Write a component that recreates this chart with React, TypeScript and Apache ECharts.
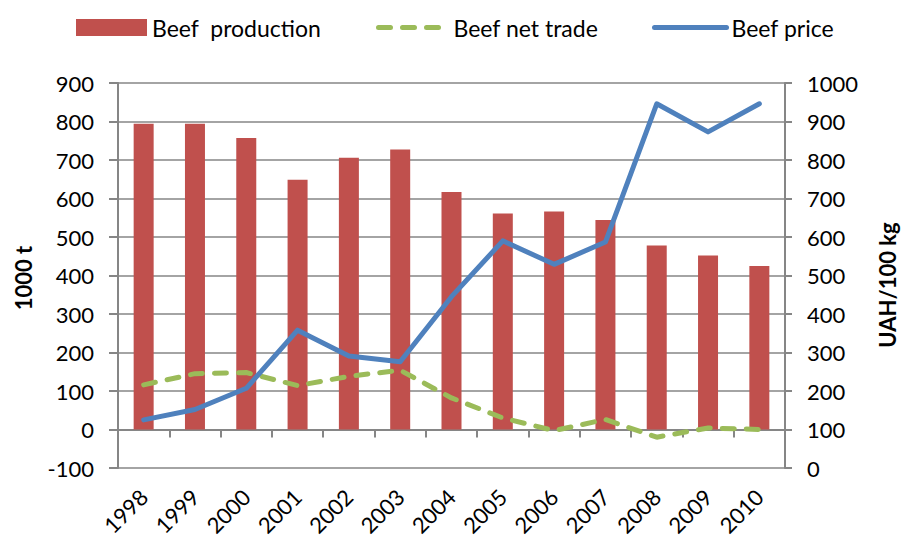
import React, { useEffect, useRef } from "react";
import * as echarts from "echarts";

const years = ["1998", "1999", "2000", "2001", "2002", "2003", "2004", "2005", "2006", "2007", "2008", "2009", "2010"];
const beefProduction = [794, 794, 757, 649, 706, 727, 617, 561, 566, 544, 478, 452, 425];
const beefNetTrade = [116, 145, 148, 114, 138, 154, 82, 30, -3, 26, -20, 4, 0];
const beefPrice = [125, 152, 207, 358, 291, 276, 445, 590, 529, 587, 946, 873, 946];

const leftTicks = { min: -100, max: 900, interval: 100 };
const rightTicks = { min: 0, max: 1000, interval: 100 };

const FONT = "Lato, 'Open Sans', sans-serif";
const GREY = "#868686";

export default function App() {
  const ref = useRef<HTMLDivElement>(null);
  useEffect(() => {
    if (!ref.current) return;
    const chart = echarts.init(ref.current, undefined, { renderer: "svg" });
    const legendText = { fontSize: 23, fontFamily: FONT, color: "#000" };
    chart.setOption({
      animation: false,
      backgroundColor: "#fff",
      textStyle: { fontFamily: FONT },
      grid: { left: 118, right: 118, top: 83, bottom: 73, containLabel: false, outerBoundsMode: "none" },
      legend: [
        {
          left: 76, top: 16, padding: 0, itemWidth: 71, itemHeight: 17, icon: "rect",
          data: ["Beef production"],
          formatter: () => "Beef  production",
          textStyle: legendText,
        },
        {
          left: 376, top: 16, padding: 0, itemWidth: 70, itemHeight: 17,
          data: ["Beef net trade"],
          textStyle: legendText,
          itemStyle: { opacity: 0 },
          lineStyle: { width: 5, type: [12, 12], cap: "round" },
        },
        {
          left: 652, top: 16, padding: 0, itemWidth: 72, itemHeight: 17,
          data: ["Beef price"],
          textStyle: legendText,
          itemStyle: { opacity: 0 },
          lineStyle: { width: 5 },
        },
      ],
      xAxis: [
        {
          type: "category",
          data: years,
          position: "bottom",
          axisLine: { show: false, onZero: false },
          axisTick: { show: false },
          splitLine: { show: false },
          axisLabel: { rotate: 45, fontSize: 22, fontFamily: FONT, color: "#000", margin: 25, interval: 0 },
        },
        {
          type: "category",
          data: years,
          position: "bottom",
          axisLine: { show: true, onZero: true, lineStyle: { color: GREY, width: 2 } },
          axisTick: { show: true, length: 8, inside: false, lineStyle: { color: GREY, width: 2 } },
          axisLabel: { show: false },
          splitLine: { show: false },
        },
      ],
      yAxis: [
        {
          type: "value",
          min: leftTicks.min,
          max: leftTicks.max,
          interval: leftTicks.interval,
          axisLine: { show: true, lineStyle: { color: GREY, width: 2 } },
          axisTick: { show: true, length: 9, inside: false, lineStyle: { color: GREY, width: 2 } },
          splitLine: { show: true, lineStyle: { color: GREY, width: 1.5 } },
          axisLabel: { fontSize: 22, fontFamily: FONT, color: "#000", margin: 24, formatter: (v: number) => String(v) },
        },
        {
          type: "value",
          min: rightTicks.min,
          max: rightTicks.max,
          interval: rightTicks.interval,
          position: "right",
          axisLine: { show: true, lineStyle: { color: GREY, width: 2 } },
          axisTick: { show: true, length: 7, inside: false, lineStyle: { color: GREY, width: 2 } },
          splitLine: { show: false },
          axisLabel: { fontSize: 22, fontFamily: FONT, color: "#000", margin: 22, formatter: (v: number) => String(v) },
        },
      ],
      graphic: [
        {
          type: "text", x: 23, y: 278, rotation: Math.PI / 2,
          style: { text: "1000 t", font: `bold 22px ${FONT}`, fill: "#000", align: "center", verticalAlign: "middle" },
        },
        {
          type: "text", x: 887, y: 285, rotation: Math.PI / 2,
          style: { text: "UAH/100 kg", font: `bold 22px ${FONT}`, fill: "#000", align: "center", verticalAlign: "middle" },
        },
      ],
      series: [
        {
          name: "Beef production",
          type: "bar",
          xAxisIndex: 0,
          yAxisIndex: 0,
          data: beefProduction,
          barWidth: 20,
          itemStyle: { color: "#C0504D" },
        },
        {
          name: "Beef net trade",
          type: "line",
          xAxisIndex: 0,
          yAxisIndex: 0,
          data: beefNetTrade,
          symbol: "none",
          itemStyle: { color: "#9BBB59" },
          lineStyle: { color: "#9BBB59", width: 5, type: [12, 12], cap: "round" },
        },
        {
          name: "Beef price",
          type: "line",
          xAxisIndex: 0,
          yAxisIndex: 1,
          data: beefPrice,
          symbol: "none",
          itemStyle: { color: "#4F81BD" },
          lineStyle: { color: "#4F81BD", width: 5, cap: "round", join: "round" },
        },
      ],
    });
    return () => chart.dispose();
  }, []);
  return <div ref={ref} style={{ width: 903, height: 541, position: "absolute", left: 0, top: 0 }} />;
}
